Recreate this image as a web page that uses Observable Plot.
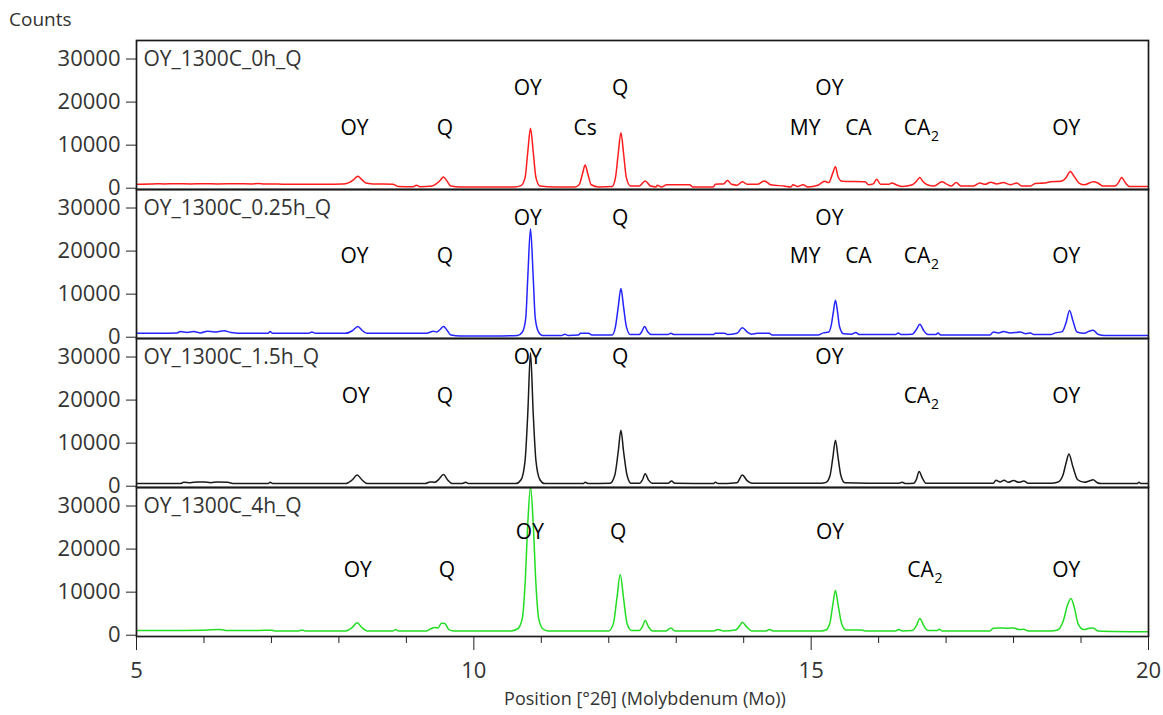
<!DOCTYPE html>
<html><head><meta charset="utf-8">
<script src="https://cdn.jsdelivr.net/npm/d3@7"></script>
<script src="https://cdn.jsdelivr.net/npm/@observablehq/plot@0.6"></script>
<style>
body{margin:0;background:#fff;}
#wrap{position:relative;width:1163px;height:715px;font-family:"Open Sans",sans-serif;}
#wrap svg{position:absolute;left:0;top:0;}
#counts{position:absolute;left:9px;top:6px;font-size:19px;color:#333;}
#xlabel{position:absolute;left:645px;top:686px;transform:translateX(-50%);font-size:18px;color:#333;white-space:nowrap;}
</style></head>
<body>
<div id="wrap"><div id="counts">Counts</div><div id="xlabel">Position [°2θ] (Molybdenum (Mo))</div></div>
<script>
const panels = ["OY_1300C_0h_Q", "OY_1300C_0.25h_Q", "OY_1300C_1.5h_Q", "OY_1300C_4h_Q"];
const seriesColors = ["#ff1c1c", "#2424ff", "#1a1a1a", "#22dd22"];
const yTicks = [0, 10000, 20000, 30000];
const xMajor = [5, 10, 15, 20];
const xMinor = [6, 7, 8, 9, 11, 12, 13, 14, 16, 17, 18, 19];

const scan0h = [[5.00,900],[5.20,950],[5.30,1050],[5.40,1000],[5.60,1050],[5.80,1000],[6.00,1050],[6.20,1000],[6.50,1050],[6.70,1000],[6.80,1100],[6.90,950],[7.00,1000],[7.20,900],[7.50,900],[7.80,900],[8.05,950],[8.15,1300],[8.22,2000],[8.28,2800],[8.34,2000],[8.40,1200],[8.50,1000],[8.80,900],[8.88,400],[9.10,350],[9.15,700],[9.20,350],[9.38,500],[9.45,1100],[9.50,1800],[9.55,2600],[9.60,1700],[9.66,500],[9.80,300],[10.20,300],[10.60,300],[10.70,600],[10.76,2500],[10.80,8500],[10.84,13900],[10.88,8500],[10.92,2500],[10.98,500],[11.20,300],[11.50,300],[11.56,800],[11.61,3300],[11.65,5400],[11.69,3300],[11.74,800],[11.85,300],[12.05,400],[12.10,2500],[12.14,8000],[12.18,12900],[12.22,8000],[12.26,2500],[12.32,500],[12.45,500],[12.54,1700],[12.62,500],[12.70,300],[12.72,700],[12.78,300],[12.86,800],[13.20,800],[13.24,300],[13.55,300],[13.58,900],[13.70,1000],[13.76,1800],[13.82,900],[13.90,700],[13.98,1500],[14.05,900],[14.20,900],[14.31,1700],[14.40,800],[14.60,500],[14.70,300],[14.73,800],[14.80,400],[14.88,800],[14.95,300],[15.10,700],[15.20,1600],[15.26,1300],[15.32,3500],[15.36,5000],[15.40,2600],[15.46,1600],[15.80,1500],[15.85,800],[15.92,1000],[15.97,2100],[16.03,900],[16.15,900],[16.20,1200],[16.26,800],[16.35,400],[16.50,800],[16.56,1600],[16.61,2500],[16.66,1500],[16.72,800],[16.82,500],[16.94,1500],[17.00,1000],[17.08,500],[17.15,1300],[17.22,500],[17.40,500],[17.50,1200],[17.58,900],[17.66,1400],[17.75,1000],[17.85,1300],[17.95,800],[18.05,1200],[18.12,500],[18.25,500],[18.32,1100],[18.45,1200],[18.55,1500],[18.70,1600],[18.78,2500],[18.84,3900],[18.90,2700],[18.97,1200],[19.05,800],[19.18,1500],[19.25,1200],[19.32,500],[19.50,500],[19.56,1400],[19.60,2500],[19.66,1200],[19.72,400],[20.00,400]];

const scan025h = [[5.00,900],[5.30,900],[5.60,1000],[5.65,1300],[5.75,1100],[5.85,1300],[5.95,1000],[6.05,1400],[6.15,1200],[6.30,1500],[6.40,1100],[6.60,900],[6.95,900],[6.98,1300],[7.02,900],[7.55,900],[7.60,1200],[7.65,900],[8.10,900],[8.20,1500],[8.28,2500],[8.35,1500],[8.42,900],[9.00,900],[9.30,900],[9.40,1400],[9.45,1200],[9.50,1800],[9.55,2500],[9.60,1700],[9.66,500],[9.80,300],[10.30,300],[10.65,400],[10.72,1200],[10.77,4500],[10.80,14000],[10.84,25200],[10.88,14000],[10.91,4500],[10.96,1200],[11.02,400],[11.30,400],[11.35,700],[11.40,400],[11.55,500],[11.58,900],[11.70,900],[11.75,500],[12.05,500],[12.10,2500],[12.14,7000],[12.18,11300],[12.22,7000],[12.26,2500],[12.32,600],[12.45,600],[12.49,1300],[12.53,2500],[12.58,1200],[12.63,600],[12.88,600],[12.92,900],[12.97,600],[13.55,600],[13.58,900],[13.72,900],[13.76,600],[13.90,900],[13.98,2200],[14.06,1100],[14.12,700],[14.20,900],[14.38,900],[14.42,500],[15.10,500],[15.18,1000],[15.26,1200],[15.30,3000],[15.33,6000],[15.36,8600],[15.39,6000],[15.42,2500],[15.48,800],[15.60,700],[15.66,1100],[15.72,600],[16.25,600],[16.29,1000],[16.33,600],[16.50,700],[16.56,1800],[16.61,3000],[16.67,1500],[16.73,600],[16.85,600],[16.88,1000],[16.92,500],[17.65,500],[17.70,1200],[17.78,1000],[17.85,1300],[17.95,1000],[18.10,1200],[18.18,800],[18.25,1000],[18.30,600],[18.55,600],[18.62,1000],[18.72,1300],[18.78,3500],[18.83,6200],[18.88,3800],[18.94,1200],[19.05,900],[19.12,1400],[19.18,1600],[19.25,700],[19.35,400],[20.00,400]];

const scan15h = [[5.00,600],[5.65,600],[5.70,900],[5.80,800],[5.90,1000],[6.00,1000],[6.10,800],[6.20,1000],[6.35,900],[6.45,600],[6.95,600],[6.98,900],[7.02,600],[8.10,600],[8.20,1500],[8.27,2600],[8.34,1500],[8.42,600],[9.28,600],[9.35,1000],[9.42,900],[9.48,1600],[9.55,2700],[9.61,1500],[9.68,600],[9.82,600],[9.88,900],[9.92,600],[10.62,600],[10.70,1500],[10.76,6000],[10.80,17000],[10.84,31000],[10.88,17000],[10.92,6000],[10.98,1500],[11.05,600],[11.62,600],[11.65,900],[11.70,600],[12.02,700],[12.09,2600],[12.14,8000],[12.18,13000],[12.22,8000],[12.27,2600],[12.33,700],[12.46,700],[12.50,1500],[12.54,2900],[12.59,1400],[12.64,700],[12.88,700],[12.93,1200],[12.98,700],[13.55,600],[13.58,900],[13.62,600],[13.90,800],[13.98,2600],[14.05,1300],[14.12,700],[15.15,700],[15.22,900],[15.28,2500],[15.32,6500],[15.36,10700],[15.40,6500],[15.44,2500],[15.50,800],[15.85,700],[16.30,700],[16.35,900],[16.40,600],[16.52,700],[16.56,1600],[16.60,3400],[16.65,1800],[16.70,700],[17.70,700],[17.74,1400],[17.80,1000],[17.86,1400],[17.92,900],[18.00,1300],[18.08,900],[18.15,1200],[18.22,700],[18.55,700],[18.65,900],[18.73,2500],[18.78,5500],[18.82,7500],[18.88,4500],[18.95,1500],[19.05,900],[19.12,1200],[19.18,1500],[19.24,800],[19.30,600],[19.83,600],[19.86,900],[19.89,600],[20.00,600]];

const scan4h = [[5.00,1100],[5.50,1100],[6.00,1150],[6.23,1350],[6.35,1100],[6.80,1100],[7.00,1150],[7.05,1000],[7.40,1000],[7.45,1200],[7.50,1000],[8.10,1000],[8.20,1800],[8.27,2900],[8.34,1800],[8.42,1000],[8.80,1000],[8.84,1300],[8.88,1000],[9.30,1000],[9.36,1500],[9.42,1800],[9.47,1700],[9.52,2800],[9.57,2700],[9.63,1300],[9.70,1000],[10.55,1000],[10.65,1500],[10.72,4000],[10.76,12000],[10.80,26000],[10.84,34500],[10.88,26000],[10.92,12000],[10.96,4000],[11.02,1500],[11.10,1000],[12.00,1000],[12.07,2800],[12.12,8500],[12.17,14100],[12.22,8500],[12.27,2800],[12.34,1100],[12.45,1100],[12.50,2000],[12.54,3400],[12.59,1900],[12.65,1000],[12.85,1000],[12.92,1700],[12.98,1000],[13.55,1000],[13.62,1300],[13.70,1000],[13.88,1200],[13.94,2200],[13.98,3000],[14.04,2000],[14.12,1000],[14.33,1000],[14.38,1300],[14.44,1000],[15.15,1000],[15.22,1200],[15.28,3000],[15.32,7000],[15.36,10400],[15.40,7000],[15.45,2800],[15.52,1200],[15.75,1200],[15.80,1000],[16.25,1000],[16.30,1300],[16.35,1000],[16.50,1100],[16.56,2200],[16.61,3900],[16.67,2200],[16.73,1100],[16.87,1100],[16.90,1400],[16.94,1000],[17.65,1000],[17.70,1600],[17.80,1700],[17.90,1600],[18.00,1700],[18.08,1300],[18.15,1400],[18.22,1000],[18.55,1000],[18.65,1200],[18.74,3500],[18.80,7000],[18.85,8500],[18.90,6500],[18.96,2500],[19.04,1300],[19.12,1600],[19.18,1700],[19.25,1000],[20.00,800]];

// phase labels: [text, 2θ, counts, subscript]
const phases0h = [["OY",8.23,13900],["Q",9.57,13900],["OY",10.80,23200],["Cs",11.65,13900],["Q",12.17,23200],["MY",14.91,13900],["OY",15.27,23200],["CA",15.70,13900],["CA",16.57,13900,"2"],["OY",18.78,13900]];
const phases025h = [["OY",8.23,18700],["Q",9.57,18700],["OY",10.80,27700],["Q",12.17,27700],["MY",14.91,18700],["OY",15.27,27700],["CA",15.70,18700],["CA",16.57,18700,"2"],["OY",18.78,18700]];
const phases15h = [["OY",8.25,20900],["Q",9.57,20900],["OY",10.80,29900],["Q",12.17,29900],["OY",15.27,29900],["CA",16.57,20900,"2"],["OY",18.78,20900]];
const phases4h = [["OY",8.28,15000],["Q",9.60,15000],["OY",10.83,24000],["Q",12.14,24000],["OY",15.28,24000],["CA",16.62,15000,"2"],["OY",18.78,15000]];

const scans = [scan0h, scan025h, scan15h, scan4h];
const phaseSets = [phases0h, phases025h, phases15h, phases4h];
const rows = scans.flatMap((s, i) => s.map(([x, y]) => ({panel: panels[i], x, y})));
const annots = phaseSets.flatMap((s, i) => s.map(([label, x, y, sub]) => ({panel: panels[i], label, x, y, sub})));

const chart = Plot.plot({
  width: 1163, height: 715,
  marginLeft: 136, marginRight: 15, marginTop: 39, marginBottom: 78,
  style: {fontFamily: "'Open Sans', sans-serif", fontSize: "22px", color: "#222", background: "transparent"},
  x: {domain: [5, 20], axis: null},
  y: {domain: [-300, 34300], axis: null},
  fy: {domain: panels, axis: null, padding: 0},
  color: {domain: panels, range: seriesColors},
  marks: [
    Plot.lineY(rows, {x: "x", y: "y", fy: "panel", stroke: "panel", strokeWidth: 1.5, curve: "monotone-x", clip: true}),
    Plot.frame({stroke: "#1a1a1a", strokeWidth: 1.7}),
    Plot.axisY({ticks: yTicks, tickFormat: d => String(d), tickSize: 10, tickPadding: 6, label: null, fill: "#333", fontSize: 22}),
    Plot.axisX({ticks: xMajor, tickSize: 14, tickPadding: 12, label: null, fill: "#333", fontSize: 22}),
    Plot.axisX({ticks: xMinor, tickSize: 7, tickFormat: () => "", label: null}),
    Plot.text(panels, {fy: d => d, text: d => d, frameAnchor: "top-left", dx: 7, dy: 19, lineAnchor: "middle", textAnchor: "start", fontSize: 21, fill: "#333"}),
    Plot.text(annots, {x: "x", y: "y", fy: "panel", text: "label", fontSize: 21, fill: "#000"}),
    Plot.text(annots.filter(d => d.sub), {x: "x", y: "y", fy: "panel", text: "sub", dx: 14, dy: 8, textAnchor: "start", fontSize: 14, fill: "#000"})
  ]
});
document.getElementById("wrap").appendChild(chart);
</script>
</body></html>
